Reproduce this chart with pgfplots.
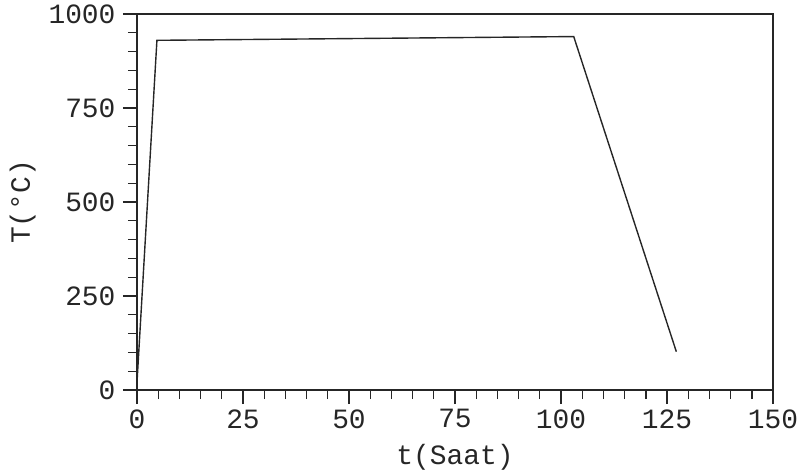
\documentclass[border=0pt]{standalone}
\usepackage{fontspec}
\setmainfont{Liberation Mono}
\usepackage{pgfplots}
\pgfplotsset{compat=1.18}
\begin{document}
\begin{tikzpicture}
\begin{axis}[
  scale only axis,
  width=636bp, height=376bp,
  xmin=0, xmax=150, ymin=0, ymax=1000,
  xtick={0,25,...,150}, ytick={0,250,...,1000},
  minor x tick num=4, minor y tick num=4,
  tick align=outside,
  major tick length=14bp, minor tick length=9bp,
  axis line style={line width=1.4pt, black!85},
  major tick style={line width=1.4pt, black!85},
  minor tick style={line width=1.4pt, black!85},
  tick pos=left,
  /pgf/number format/assume math mode=true,
  /pgf/number format/1000 sep={},
  ticklabel style={font=\fontsize{28}{30}\selectfont, text=black!85},
  xticklabel style={yshift=-2bp},
  yticklabel style={xshift=-4bp},
  xlabel={t(Saat)}, ylabel={T(°C)},
  label style={font=\fontsize{28}{30}\selectfont, text=black!85},
  xlabel style={yshift=-9bp},
  ylabel style={yshift=6bp},
]
\addplot[line width=1.4pt, black!85] coordinates {
  (0,20) (4.7,930) (103,940) (127.2,102)
};
\end{axis}
\path ([xshift=-137bp,yshift=-84bp]current axis.south west) rectangle ([xshift=37bp,yshift=14bp]current axis.north east);
\end{tikzpicture}
\end{document}
